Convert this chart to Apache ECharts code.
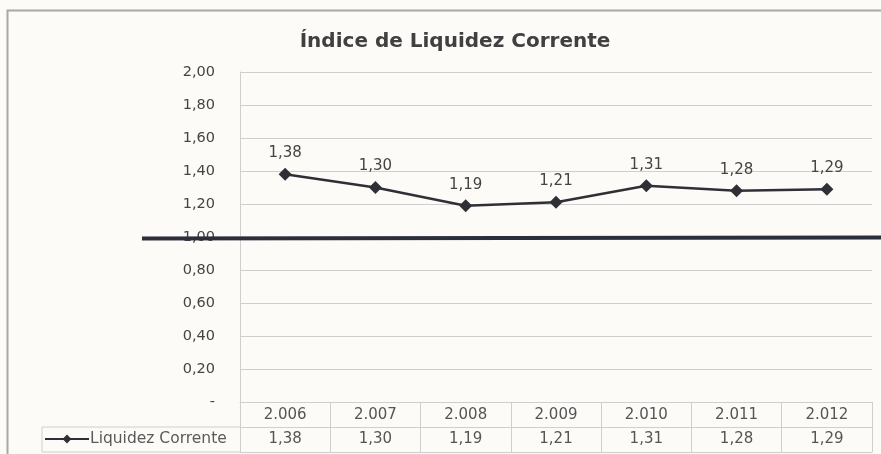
<!DOCTYPE html>
<html>
<head>
<meta charset="utf-8">
<script src="https://cdn.jsdelivr.net/npm/echarts@6/dist/echarts.min.js"></script>
<style>
html,body{margin:0;padding:0;background:#fdfbf7;}
#c{width:881px;height:454px;}
</style>
</head>
<body>
<div id="c"></div>
<script>
var titleText = 'Índice de Liquidez Corrente';
var seriesName = 'Liquidez Corrente';
var years = ['2.006','2.007','2.008','2.009','2.010','2.011','2.012'];
var values = [1.38, 1.30, 1.19, 1.21, 1.31, 1.28, 1.29];
var yTicks = [0, 0.2, 0.4, 0.6, 0.8, 1.0, 1.2, 1.4, 1.6, 1.8, 2.0];
var refValue = 1.0;

function fmt(v){ return v.toFixed(2).replace('.', ','); }

var FONT = 'DejaVu Sans';
var TXT = '#444444';
var TBL = '#555555';
var GRIDC = '#cfcfcf';

var chart = echarts.init(document.getElementById('c'), null, {renderer:'canvas'});

var option = {
  backgroundColor: '#fdfbf7',
  animation: false,
  textStyle: {fontFamily: FONT},
  title: {
    text: titleText,
    left: 450, top: 27, textAlign: 'center',
    textStyle: {fontFamily: FONT, fontSize: 20, fontWeight: 'bold', color: '#404040'}
  },
  legend: {
    data: [seriesName],
    left: 44, top: 431, padding: 0,
    itemWidth: 44, itemHeight: 11, itemGap: 0,
    textStyle: {fontFamily: FONT, fontSize: 15.5, color: '#5a5a5a', padding: [0,0,0,-4]},
    selectedMode: false
  },
  grid: {left: 240, right: 9, top: 72, bottom: 52, containLabel: false},
  xAxis: [{
    type: 'category', data: years, boundaryGap: true, position: 'bottom',
    axisLine: {show: true, lineStyle: {color: GRIDC, width: 1}},
    axisTick: {show: true, interval: 0, length: 50, inside: false, lineStyle: {color: GRIDC}},
    axisLabel: {margin: 6, fontSize: 15, color: TBL, fontFamily: FONT, interval: 0},
    splitLine: {show: false}
  }, {
    type: 'category', data: values.map(fmt), boundaryGap: true, position: 'bottom', offset: 25,
    axisLine: {show: true, lineStyle: {color: GRIDC, width: 1}},
    axisTick: {show: false},
    axisLabel: {margin: 5, fontSize: 15, color: TBL, fontFamily: FONT, interval: 0}
  }, {
    type: 'category', data: years, boundaryGap: true, position: 'bottom', offset: 50,
    axisLine: {show: true, lineStyle: {color: GRIDC, width: 1}},
    axisTick: {show: false},
    axisLabel: {show: false}
  }],
  yAxis: {
    type: 'value', min: yTicks[0], max: yTicks[yTicks.length-1], interval: 0.2,
    axisLine: {show: true, lineStyle: {color: GRIDC}},
    axisTick: {show: false},
    axisLabel: {margin: 25, fontSize: 14.5, color: TXT, fontFamily: FONT,
      formatter: function(v){ return Math.abs(v) < 1e-9 ? '-' : fmt(v); }},
    splitLine: {show: true, lineStyle: {color: GRIDC, width: 1}}
  },
  series: [{
    name: seriesName, type: 'line', data: values, xAxisIndex: 0,
    symbol: 'diamond', symbolSize: 13,
    lineStyle: {color: '#2f2f36', width: 2.5},
    itemStyle: {color: '#2f2f36'},
    label: {show: true, position: 'top', distance: 7, fontSize: 15, color: TXT, fontFamily: FONT,
      formatter: function(p){ return fmt(p.value); }},
    z: 5
  }]
};
chart.setOption(option);

var y1 = chart.convertToPixel({yAxisIndex: 0}, refValue);
var yTop = chart.convertToPixel({yAxisIndex: 0}, 0);
var leftX = chart.convertToPixel({xAxisIndex: 0}, years[0]) - (chart.convertToPixel({xAxisIndex: 0}, years[1]) - chart.convertToPixel({xAxisIndex: 0}, years[0])) / 2;

chart.setOption({
  graphic: [
    {type: 'rect', shape: {x: 7.5, y: 10.5, width: 1000, height: 600},
     style: {fill: null, stroke: '#a8a8a8', lineWidth: 2}, z: 1, silent: true},
    {type: 'line', shape: {x1: 42, y1: yTop + 25, x2: leftX, y2: yTop + 25},
     style: {stroke: GRIDC, lineWidth: 1}, z: 1, silent: true},
    {type: 'line', shape: {x1: 42, y1: yTop + 50, x2: leftX, y2: yTop + 50},
     style: {stroke: GRIDC, lineWidth: 1}, z: 1, silent: true},
    {type: 'line', shape: {x1: 42, y1: yTop + 25, x2: 42, y2: yTop + 50},
     style: {stroke: GRIDC, lineWidth: 1}, z: 1, silent: true},
    {type: 'line', shape: {x1: 142, y1: y1 + 1.5, x2: 881, y2: y1 + 0.5},
     style: {stroke: '#2c2e3c', lineWidth: 4}, z: 100, silent: true}
  ]
});
</script>
</body>
</html>
